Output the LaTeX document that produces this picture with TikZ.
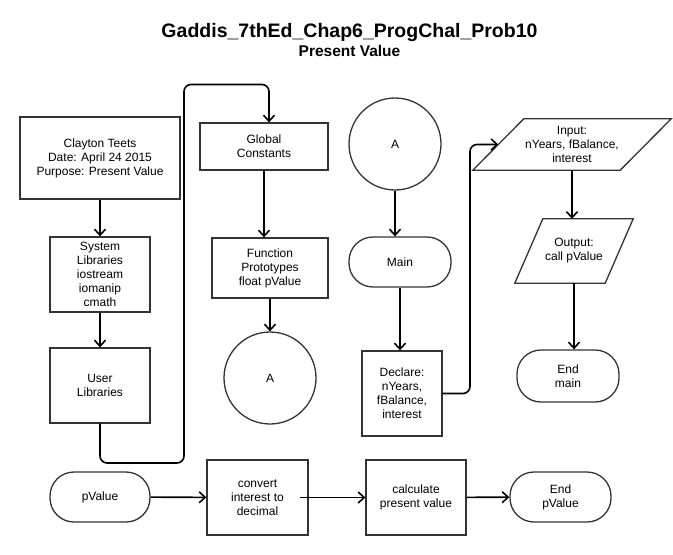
\documentclass[tikz,border=0pt]{standalone}
\usepackage{fontspec}
\setmainfont{Liberation Sans}
\usetikzlibrary{arrows.meta, calc}
\begin{document}
\begin{tikzpicture}[x=1pt,y=-1pt,
  boxline/.style={draw=black!80, line width=1.3pt},
  box/.style={boxline, align=center, inner sep=0pt, font=\fontsize{12}{14}\selectfont},
  proc/.style={box, rectangle},
  term/.style={box, rectangle, rounded corners=24pt},
  conn/.style={box, circle, minimum size=92pt},
  io/.style={align=center, inner sep=0pt, font=\fontsize{12}{14}\selectfont, rectangle},
  arr/.style={line width=1.6pt, -{Straight Barb[length=6pt,width=11pt]}, rounded corners=7pt},
]
\useasboundingbox (0,0) rectangle (673,555);

% titles
\node[anchor=base, font=\bfseries\fontsize{19.5}{22}\selectfont, inner sep=0pt] (title) at (349.5,37.5) {Gaddis\_7thEd\_Chap6\_ProgChal\_Prob10};
\node[anchor=base, font=\bfseries\fontsize{15.5}{18}\selectfont, inner sep=0pt] (subtitle) at (349.5,56) {Present Value};

% column 1
\node[proc, minimum width=160pt, minimum height=82pt] (clayton) at (100,158) {Clayton Teets\\Date: April 24 2015\\Purpose: Present Value};
\node[proc, minimum width=100pt, minimum height=75pt] (syslib) at (100,274.5) {System\\Libraries\\iostream\\iomanip\\cmath};
\node[proc, minimum width=100pt, minimum height=75pt] (userlib) at (100,385.5) {User\\Libraries};

% column 2
\node[proc, minimum width=128pt, minimum height=47pt] (global) at (264,146.5) {Global\\Constants};
\node[proc, minimum width=116pt, minimum height=60pt] (funcproto) at (270,268) {Function\\Prototypes\\float pValue};
\node[conn] (circA1) at (270,378) {A};

% column 3
\node[conn] (circA2) at (395,144) {A};
\node[term, minimum width=102pt, minimum height=50pt] (main) at (400,262) {Main};
\node[proc, minimum width=80pt, minimum height=85pt] (declare) at (402,393.5) {Declare:\\nYears,\\fBalance,\\interest};

% column 4 (parallelograms)
\node[io, minimum width=147pt, minimum height=51pt] (input) at (572,144.5) {Input:\\nYears, fBalance,\\interest};
\draw[boxline] ($(input.south west)+(-25.5,0)$) -- ($(input.north west)+(25.5,0)$) -- ($(input.north east)+(25.5,0)$) -- ($(input.south east)+(-25.5,0)$) -- cycle;
\node[io, minimum width=90pt, minimum height=64pt] (output) at (574,251) {Output:\\call pValue};
\draw[boxline] ($(output.south west)+(-14,0)$) -- ($(output.north west)+(14,0)$) -- ($(output.north east)+(14,0)$) -- ($(output.south east)+(-14,0)$) -- cycle;
\node[term, minimum width=102pt, minimum height=52pt] (endmain) at (568,376) {End\\main};

% bottom row
\node[term, minimum width=100pt, minimum height=50pt] (pvalue) at (100,497) {pValue};
\node[proc, minimum width=101pt, minimum height=75pt] (convert) at (257.5,497.5) {convert\\interest to\\decimal};
\node[proc, minimum width=100pt, minimum height=75pt] (calc) at (416,497.5) {calculate\\present value};
\node[term, minimum width=101pt, minimum height=50pt] (endpv) at (560.5,497) {End\\pValue};

% connectors
\coordinate (c1) at (184,463);
\coordinate (c2) at (184,84.5);
\coordinate (c3) at (470,393.5);

\draw[arr] (clayton) -- (syslib);
\draw[arr] (syslib) -- (userlib);
\draw[arr] (userlib.south) |- (c1) -- (c2) -| ($(global.north)+(5,0)$);
\draw[arr] (global.south) -- (global.south |- funcproto.north);
\draw[arr] (funcproto) -- (circA1);
\draw[arr] (circA2.south) -- (circA2.south |- main.north);
\draw[arr] (main.south) -- (main.south |- declare.north);
\draw[arr] (declare.east) -- (c3) |- (input.west);
\draw[arr] (input.south) -- (input.south |- output.north);
\draw[arr] (output.south) -- (output.south |- endmain.north);
\draw[arr] (pvalue) -- (convert);
\draw[arr] ($(convert.east)+(-9,0)$) -- (calc.west);
\draw[arr] (calc) -- (endpv);
\end{tikzpicture}
\end{document}
